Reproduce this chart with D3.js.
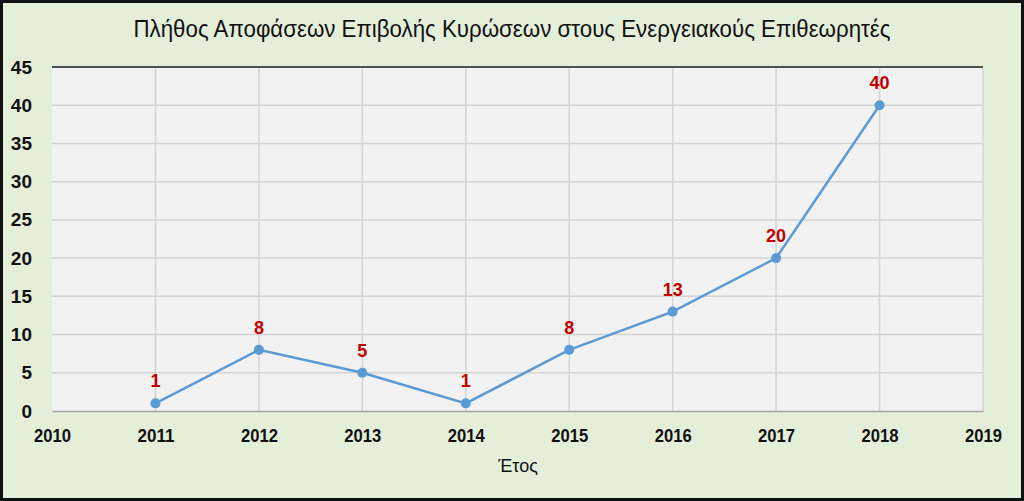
<!DOCTYPE html>
<html><head><meta charset="utf-8">
<script src="https://cdn.jsdelivr.net/npm/d3@7"></script>
<style>
body{margin:0;background:#fff;}
text{font-family:"Liberation Sans Narrow","Arial Narrow","Liberation Sans",sans-serif;}
</style></head>
<body><svg id="chart" width="1024" height="501"></svg>
<script>
const years = [2011, 2012, 2013, 2014, 2015, 2016, 2017, 2018];
const counts = [1, 8, 5, 1, 8, 13, 20, 40];
const xTicks = [2010, 2011, 2012, 2013, 2014, 2015, 2016, 2017, 2018, 2019];
const yTicks = [0, 5, 10, 15, 20, 25, 30, 35, 40, 45];

const M = {left: 52, right: 983, top: 67, bottom: 411};
const svg = d3.select('#chart');

// background + border
svg.append('rect').attr('x', 1.5).attr('y', 1.5).attr('width', 1021).attr('height', 498)
    .attr('fill', '#e4efda').attr('stroke', '#111').attr('stroke-width', 3);

const x = d3.scaleLinear().domain([2010, 2019]).range([M.left, M.right]);
const y = d3.scaleLinear().domain([0, 45]).range([M.bottom, M.top]);

svg.append('rect').attr('x', M.left).attr('y', M.top)
    .attr('width', M.right - M.left).attr('height', M.bottom - M.top).attr('fill', '#f2f2f2');

// gridlines
svg.append('g').selectAll('line').data(yTicks.slice(1)).enter().append('line')
    .attr('x1', M.left).attr('x2', M.right).attr('y1', d => y(d)).attr('y2', d => y(d))
    .attr('stroke', '#d4d4d4').attr('stroke-width', 1.5);
svg.append('g').selectAll('line').data(xTicks.slice(1)).enter().append('line')
    .attr('y1', M.top).attr('y2', M.bottom).attr('x1', d => x(d)).attr('x2', d => x(d))
    .attr('stroke', '#d4d4d4').attr('stroke-width', 1.5);

// top border line
svg.append('line').attr('x1', M.left).attr('x2', M.right).attr('y1', M.top).attr('y2', M.top)
    .attr('stroke', '#222').attr('stroke-width', 1.5);

// axes
const xAxis = svg.append('g').attr('transform', `translate(0,${M.bottom})`)
    .call(d3.axisBottom(x).tickValues(xTicks).tickFormat(d3.format('d')).tickSize(0).tickPadding(18));
xAxis.select('.domain').attr('stroke', '#a6a6a6').attr('stroke-width', 1.5);
xAxis.selectAll('text').attr('font-size', 19).attr('font-weight', 'bold').attr('fill', '#111')
    .attr('textLength', 37).attr('lengthAdjust', 'spacingAndGlyphs');

const yAxis = svg.append('g').attr('transform', `translate(${M.left},0)`)
    .call(d3.axisLeft(y).tickValues(yTicks).tickSize(0).tickPadding(20));
yAxis.select('.domain').remove();
yAxis.selectAll('text').attr('font-size', 19).attr('font-weight', 'bold').attr('fill', '#111');

// line + points
const pts = years.map((yr, i) => ({yr, v: counts[i]}));
svg.append('path').datum(pts)
    .attr('d', d3.line().x(d => x(d.yr)).y(d => y(d.v)))
    .attr('fill', 'none').attr('stroke', '#5b9bd5').attr('stroke-width', 2.5);
svg.append('g').selectAll('circle').data(pts).enter().append('circle')
    .attr('cx', d => x(d.yr)).attr('cy', d => y(d.v)).attr('r', 5).attr('fill', '#5b9bd5');
svg.append('g').selectAll('text').data(pts).enter().append('text')
    .attr('x', d => x(d.yr)).attr('y', d => y(d.v) - 16)
    .attr('text-anchor', 'middle').attr('font-size', 18).attr('font-weight', 'bold')
    .attr('fill', '#c00000').text(d => d.v);

// titles
svg.append('text').attr('x', 512).attr('y', 37).attr('text-anchor', 'middle')
    .attr('font-size', 23).attr('fill', '#111')
    .attr('textLength', 757).attr('lengthAdjust', 'spacingAndGlyphs')
    .text('Πλήθος Αποφάσεων Επιβολής Κυρώσεων στους Ενεργειακούς Επιθεωρητές');
svg.append('text').attr('x', 518).attr('y', 472).attr('text-anchor', 'middle')
    .attr('font-size', 18).attr('fill', '#111').text('Έτος');
</script></body></html>
